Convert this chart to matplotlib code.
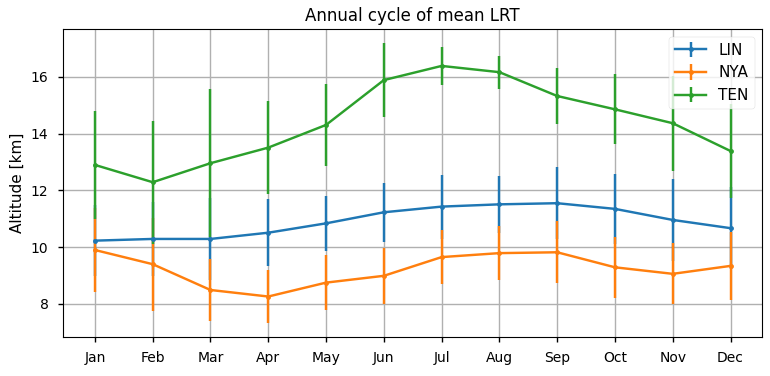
import matplotlib
matplotlib.use("Agg")
import matplotlib.pyplot as plt

plt.style.use("seaborn-v0_8-notebook")
plt.rcParams["font.family"] = ["DejaVu Sans"]

months = ["Jan", "Feb", "Mar", "Apr", "May", "Jun", "Jul", "Aug", "Sep", "Oct", "Nov", "Dec"]

lin_mean = [10.23, 10.29, 10.29, 10.51, 10.84, 11.23, 11.43, 11.51, 11.55, 11.35, 10.96, 10.67]
lin_err = [1.26, 1.32, 1.43, 1.19, 0.97, 1.04, 1.13, 1.00, 1.27, 1.23, 1.44, 1.45]

nya_mean = [9.90, 9.40, 8.49, 8.26, 8.75, 8.99, 9.65, 9.79, 9.82, 9.29, 9.06, 9.34]
nya_err = [1.47, 1.64, 1.10, 0.93, 0.98, 0.98, 0.95, 0.96, 1.10, 1.07, 1.07, 1.19]

ten_mean = [12.90, 12.29, 12.96, 13.51, 14.31, 15.89, 16.39, 16.17, 15.33, 14.86, 14.37, 13.39]
ten_err = [1.90, 2.17, 2.60, 1.65, 1.45, 1.31, 0.68, 0.58, 0.97, 1.23, 1.67, 1.64]

fig = plt.figure(figsize=(7.7, 3.76), dpi=100)
ax = fig.add_axes([0.082, 0.104, 0.908, 0.819])

x = list(range(len(months)))
ax.errorbar(x, lin_mean, yerr=lin_err, marker=".", label="LIN")
ax.errorbar(x, nya_mean, yerr=nya_err, marker=".", label="NYA")
ax.errorbar(x, ten_mean, yerr=ten_err, marker=".", label="TEN")

ax.set_xticks(x)
ax.set_xticklabels(months)
ax.set_ylabel("Altitude [km]")
ax.set_title("Annual cycle of mean LRT")
ax.grid(True)
ax.legend(loc="upper right", fontsize=11)

fig.savefig("out.png", dpi=100)
